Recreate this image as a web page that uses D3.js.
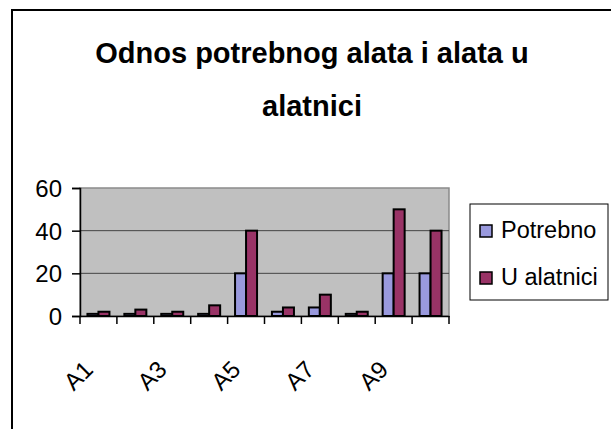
<!DOCTYPE html>
<html>
<head>
<meta charset="utf-8">
<script src="https://cdn.jsdelivr.net/npm/d3@7/dist/d3.min.js"></script>
<style>
html,body{margin:0;padding:0;background:#fff;}
svg{display:block;}
text{font-family:"Liberation Sans",Arial,sans-serif;fill:#000;}
</style>
</head>
<body>
<svg id="chart" width="611" height="429"></svg>
<script>
const titleLines = ["Odnos potrebnog alata i alata u", "alatnici"];
const categories = ["A1","A2","A3","A4","A5","A6","A7","A8","A9","A10"];
const shownLabels = ["A1","A3","A5","A7","A9"];
const seriesNames = ["Potrebno", "U alatnici"];
const potrebno = [1, 1, 1, 1, 20, 2, 4, 1, 20, 20];
const uAlatnici = [2, 3, 2, 5, 40, 4, 10, 2, 50, 40];
const yTicks = [0, 20, 40, 60];
const colors = ["#9999dd", "#993366"];

const svg = d3.select("#chart");
const W = 611, H = 429;

// outer chart border (cropped at right and bottom)
svg.append("path")
  .attr("d", "M12," + (H + 5) + " L12,10 L" + (W + 5) + ",10")
  .attr("fill", "none").attr("stroke", "#000").attr("stroke-width", 2);

// title
const title = svg.append("text").attr("text-anchor", "middle")
  .style("font-weight", "bold").style("font-size", "29px");
titleLines.forEach((t, i) => {
  title.append("tspan").attr("x", 312).attr("y", 63 + i * 53).text(t);
});

const plot = {left: 80, right: 449, top: 188, bottom: 316};
const x = d3.scaleBand().domain(categories).range([plot.left, plot.right]).paddingInner(0).paddingOuter(0);
const y = d3.scaleLinear().domain([0, 60]).range([plot.bottom, plot.top]);

// plot area background
svg.append("rect")
  .attr("x", plot.left).attr("y", plot.top)
  .attr("width", plot.right - plot.left).attr("height", plot.bottom - plot.top)
  .attr("fill", "#c0c0c0").attr("stroke", "#8a8a8a").attr("stroke-width", 1.5);

// gridlines
svg.append("g").selectAll("line").data(yTicks.filter(d => d > 0 && d < 60)).join("line")
  .attr("x1", plot.left).attr("x2", plot.right)
  .attr("y1", d => y(d)).attr("y2", d => y(d))
  .attr("stroke", "#444").attr("stroke-width", 1);

// bars
const barW = 11;
const series = [potrebno, uAlatnici];
series.forEach((vals, si) => {
  svg.append("g").selectAll("rect").data(categories).join("rect")
    .attr("x", (d) => x(d) + x.bandwidth() / 2 - barW + si * barW)
    .attr("y", (d, i) => y(vals[i]))
    .attr("width", barW)
    .attr("height", (d, i) => y(0) - y(vals[i]))
    .attr("fill", colors[si]).attr("stroke", "#000").attr("stroke-width", 2);
});

// y axis
const yAxis = d3.axisLeft(y).tickValues(yTicks).tickSize(8).tickPadding(10);
const gy = svg.append("g").attr("transform", "translate(" + plot.left + ",0)").call(yAxis);
gy.select(".domain").attr("stroke", "#000").attr("stroke-width", 1.5);
gy.selectAll(".tick line").attr("stroke", "#000").attr("stroke-width", 1.5);
gy.selectAll(".tick text").style("font-size", "24px").style("font-family", "Liberation Sans, Arial, sans-serif")
  .attr("fill", "#000").attr("dy", "0.36em");

// x axis
const xAxis = d3.axisBottom(x).tickSize(0).tickFormat("");
const gx = svg.append("g").attr("transform", "translate(0," + plot.bottom + ")").call(xAxis);
gx.select(".domain").attr("stroke", "#000").attr("stroke-width", 1.5);
gx.selectAll(".tick").remove();
// category boundary ticks
const bounds = categories.map(c => x(c)).concat([x(categories[categories.length - 1]) + x.bandwidth()]);
svg.append("g").selectAll("line").data(bounds).join("line")
  .attr("x1", d => d).attr("x2", d => d)
  .attr("y1", plot.bottom).attr("y2", plot.bottom + 8)
  .attr("stroke", "#000").attr("stroke-width", 1.5);

// x labels, rotated
svg.append("g").selectAll("text").data(shownLabels).join("text")
  .attr("text-anchor", "end")
  .attr("transform", d => "translate(" + (x(d) + x.bandwidth() / 2 - 4) + "," + (plot.bottom + 55) + ") rotate(-45)")
  .style("font-size", "24px")
  .text(d => d);

// legend
const leg = svg.append("g");
leg.append("rect").attr("x", 470).attr("y", 204).attr("width", 138).attr("height", 96)
  .attr("fill", "#fff").attr("stroke", "#000").attr("stroke-width", 1);
seriesNames.forEach((n, i) => {
  const yy = 238 + i * 47;
  leg.append("rect").attr("x", 480).attr("y", yy - 13).attr("width", 12).attr("height", 12)
    .attr("fill", colors[i]).attr("stroke", "#000").attr("stroke-width", 1.5);
  leg.append("text").attr("x", 501).attr("y", yy).style("font-size", "23.5px").text(n);
});
</script>
</body>
</html>
